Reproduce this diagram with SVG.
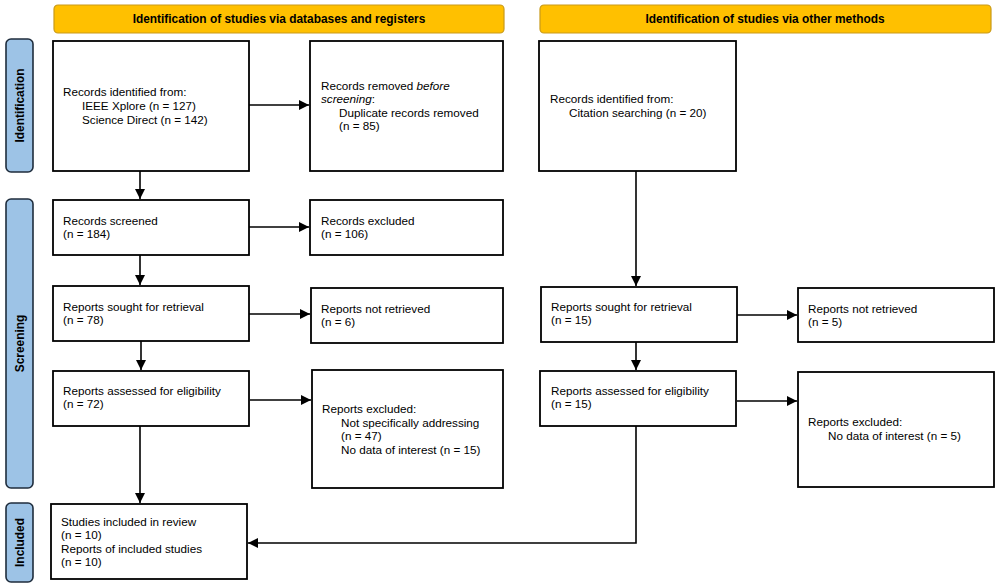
<svg xmlns="http://www.w3.org/2000/svg" width="1000" height="588" viewBox="0 0 1000 588">
<defs>
<marker id="ah" viewBox="0 0 10 10" refX="10" refY="5" markerWidth="10" markerHeight="10" markerUnits="userSpaceOnUse" orient="auto">
<path d="M0,0 L10,5 L0,10 z" fill="#000"/>
</marker>
<style>
.box{fill:#fff;stroke:#000;stroke-width:1.8}
.ban{fill:#FFC000;stroke:#C99A1A;stroke-width:1.2}
.side{fill:#9DC3E6;stroke:#1F2D3D;stroke-width:1.6}
.t{font-family:"Liberation Sans",Arial,sans-serif;font-size:11.7px;fill:#000}
.b{font-family:"Liberation Sans",Arial,sans-serif;font-size:11.9px;font-weight:bold;fill:#000}
.c{fill:none;stroke:#000;stroke-width:1.6}
</style>
</defs>
<rect width="1000" height="588" fill="#fff"/>
<g id="banner-db"><rect class="ban" x="54" y="5" width="450" height="28" rx="4"/><text class="b" x="279" y="23" text-anchor="middle">Identification of studies via databases and registers</text></g>
<g id="banner-other"><rect class="ban" x="540" y="5" width="451" height="28" rx="4"/><text class="b" x="765" y="23" text-anchor="middle">Identification of studies via other methods</text></g>
<g id="side-identification"><rect class="side" x="6" y="39" width="27" height="133" rx="5"/><text class="b" transform="translate(24,105.5) rotate(-90)" text-anchor="middle">Identification</text></g>
<g id="side-screening"><rect class="side" x="6" y="199" width="27" height="289" rx="5"/><text class="b" transform="translate(24,343.5) rotate(-90)" text-anchor="middle">Screening</text></g>
<g id="side-included"><rect class="side" x="6" y="503" width="27" height="79" rx="5"/><text class="b" transform="translate(24,542.5) rotate(-90)" text-anchor="middle">Included</text></g>

<g id="records-identified"><rect class="box" x="53" y="41" width="196" height="130"/>
<text class="t" x="63" y="96">Records identified from:</text><text class="t" x="82" y="110">IEEE Xplore (n = 127)</text><text class="t" x="82" y="124">Science Direct (n = 142)</text></g>
<g id="records-removed"><rect class="box" x="310" y="41" width="193" height="130"/>
<text class="t" x="321" y="90">Records removed <tspan font-style="italic">before</tspan></text><text class="t" x="321" y="103"><tspan font-style="italic">screening</tspan>:</text><text class="t" x="339" y="117">Duplicate records removed</text><text class="t" x="339" y="130">(n = 85)</text></g>
<g id="records-other"><rect class="box" x="539" y="41" width="197" height="130"/>
<text class="t" x="550" y="103">Records identified from:</text><text class="t" x="569" y="117">Citation searching (n = 20)</text></g>

<g id="records-screened"><rect class="box" x="53" y="200" width="196" height="55"/><text class="t" x="63" y="225">Records screened</text><text class="t" x="63" y="238">(n = 184)</text></g>
<g id="records-excluded"><rect class="box" x="310" y="200" width="193" height="55"/><text class="t" x="321" y="225">Records excluded</text><text class="t" x="321" y="238">(n = 106)</text></g>

<g id="sought-db"><rect class="box" x="53" y="286" width="196" height="55"/><text class="t" x="63" y="311">Reports sought for retrieval</text><text class="t" x="63" y="324">(n = 78)</text></g>
<g id="notretrieved-db"><rect class="box" x="311" y="288" width="192" height="55"/><text class="t" x="321" y="313">Reports not retrieved</text><text class="t" x="321" y="326">(n = 6)</text></g>
<g id="sought-other"><rect class="box" x="541" y="287" width="196" height="55"/><text class="t" x="551" y="311">Reports sought for retrieval</text><text class="t" x="551" y="324">(n = 15)</text></g>
<g id="notretrieved-other"><rect class="box" x="798" y="288" width="196" height="54"/><text class="t" x="808" y="313">Reports not retrieved</text><text class="t" x="808" y="326">(n = 5)</text></g>

<g id="assessed-db"><rect class="box" x="53" y="371" width="196" height="55"/><text class="t" x="63" y="395">Reports assessed for eligibility</text><text class="t" x="63" y="408">(n = 72)</text></g>
<g id="excluded-db"><rect class="box" x="312" y="370" width="191" height="118"/>
<text class="t" x="322" y="413">Reports excluded:</text><text class="t" x="341" y="427">Not specifically addressing</text><text class="t" x="341" y="440">(n = 47)</text><text class="t" x="341" y="454">No data of interest (n = 15)</text></g>
<g id="assessed-other"><rect class="box" x="540" y="371" width="196" height="55"/><text class="t" x="551" y="395">Reports assessed for eligibility</text><text class="t" x="551" y="408">(n = 15)</text></g>
<g id="excluded-other"><rect class="box" x="798" y="372" width="196" height="115"/>
<text class="t" x="808" y="426">Reports excluded:</text><text class="t" x="828" y="440">No data of interest (n = 5)</text></g>

<g id="included"><rect class="box" x="51" y="504" width="196" height="75"/>
<text class="t" x="61" y="526">Studies included in review</text><text class="t" x="61" y="539">(n = 10)</text><text class="t" x="61" y="553">Reports of included studies</text><text class="t" x="61" y="566">(n = 10)</text></g>

<g id="connectors">
<line class="c" x1="249" y1="105" x2="309" y2="105" marker-end="url(#ah)"/>
<line class="c" x1="140" y1="171" x2="140" y2="199" marker-end="url(#ah)"/>
<line class="c" x1="249" y1="227" x2="309" y2="227" marker-end="url(#ah)"/>
<line class="c" x1="140" y1="255" x2="140" y2="285" marker-end="url(#ah)"/>
<line class="c" x1="249" y1="314" x2="310" y2="314" marker-end="url(#ah)"/>
<line class="c" x1="141" y1="341" x2="141" y2="370" marker-end="url(#ah)"/>
<line class="c" x1="250" y1="400" x2="311" y2="400" marker-end="url(#ah)"/>
<line class="c" x1="140" y1="426" x2="140" y2="503" marker-end="url(#ah)"/>
<line class="c" x1="636" y1="171" x2="636" y2="286" marker-end="url(#ah)"/>
<line class="c" x1="737" y1="315" x2="797" y2="315" marker-end="url(#ah)"/>
<line class="c" x1="636" y1="342" x2="636" y2="370" marker-end="url(#ah)"/>
<line class="c" x1="737" y1="401" x2="797" y2="401" marker-end="url(#ah)"/>
<polyline class="c" points="636,426 636,543 248,543" marker-end="url(#ah)"/>
</g>
</svg>
